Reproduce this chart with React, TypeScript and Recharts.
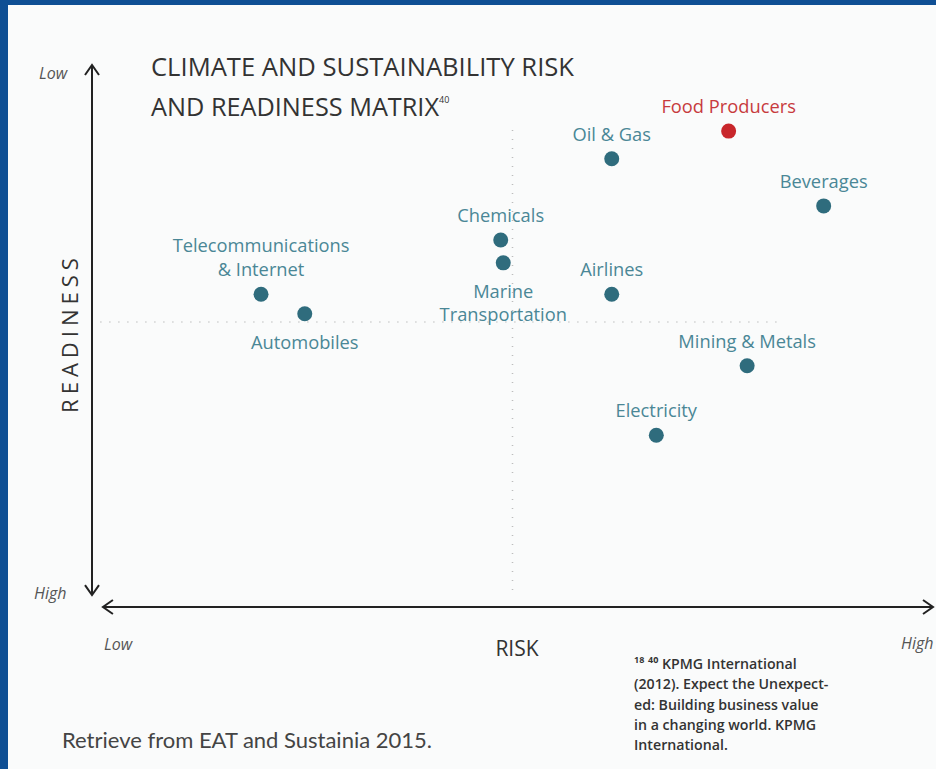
import React from "react";
import { ScatterChart, Scatter, XAxis, YAxis, ReferenceLine, Cell } from "recharts";

const SECTORS = [
  "Food Producers",
  "Oil & Gas",
  "Beverages",
  "Chemicals",
  "Marine Transportation",
  "Airlines",
  "Telecommunications & Internet",
  "Automobiles",
  "Mining & Metals",
  "Electricity",
];
// risk: 0 = low, 100 = high
const RISK = [75.7, 61.8, 87.0, 48.6, 48.9, 61.8, 20.1, 25.3, 77.9, 67.1];
// readiness: 0 = low (top), 100 = high (bottom)
const READINESS = [12.2, 17.3, 26.0, 32.3, 36.5, 42.3, 42.3, 45.9, 55.5, 68.3];
const HIGHLIGHTED = ["Food Producers"];

const LABEL_LINES: Record<string, string[]> = {
  "Telecommunications & Internet": ["Telecommunications", "& Internet"],
  "Marine Transportation": ["Marine", "Transportation"],
};
const LABEL_BELOW = ["Marine Transportation", "Automobiles"];

const FOOTNOTE = [
  "\u00b9\u2078 \u2074\u2070 KPMG International",
  "(2012). Expect the Unexpect-",
  "ed: Building business value",
  "in a changing world. KPMG",
  "International.",
];

const W = 936;
const H = 769;
const TEAL = "#2f6c7d";
const TEAL_TEXT = "#4a8796";
const RED = "#c8262b";
const RED_TEXT = "#c73a3d";
const FONT = "'Open Sans', sans-serif";

const data = SECTORS.map((name, i) => ({
  name,
  risk: RISK[i],
  readiness: READINESS[i],
  highlight: HIGHLIGHTED.includes(name),
}));

const SectorDot = (props: any) => {
  const { cx, cy, payload } = props;
  const lines = LABEL_LINES[payload.name] || [payload.name];
  const below = LABEL_BELOW.includes(payload.name);
  const color = payload.highlight ? RED_TEXT : TEAL_TEXT;
  return (
    <g>
      <circle cx={cx} cy={cy} r={7.5} fill={payload.highlight ? RED : TEAL} />
      {lines.map((line: string, i: number) => {
        const dy = below ? 35 + i * 23 : -18 - (lines.length - 1 - i) * 24;
        return (
          <text
            key={line}
            x={cx}
            y={cy + dy}
            textAnchor="middle"
            fontFamily={FONT}
            fontSize={18.3}
            fill={color}
          >
            {line}
          </text>
        );
      })}
    </g>
  );
};

// line with open chevron heads on both ends
const Arrow = (props: any) => {
  const { x1, y1, x2, y2 } = props;
  const len = Math.hypot(x2 - x1, y2 - y1) || 1;
  const ux = (x2 - x1) / len;
  const uy = (y2 - y1) / len;
  const head = (tx: number, ty: number, dx: number, dy: number) => {
    const bx = tx - dx * 10;
    const by = ty - dy * 10;
    return `M${bx - dy * 7},${by + dx * 7} L${tx},${ty} L${bx + dy * 7},${by - dx * 7}`;
  };
  return (
    <g stroke="#222" strokeWidth={2} fill="none">
      <line x1={x1} y1={y1} x2={x2} y2={y2} />
      <path d={head(x2, y2, ux, uy)} />
      <path d={head(x1, y1, -ux, -uy)} />
    </g>
  );
};

const small = { fontFamily: FONT, fontStyle: "italic" as const, fontSize: 16, fill: "#555" };

export default function App() {
  return (
    <div style={{ position: "absolute", left: 0, top: 0, width: W, height: H, background: "#fafbfb", overflow: "hidden" }}>
      <div style={{ position: "absolute", left: 0, top: 0, width: W, height: 5, background: "#0f4f94" }} />
      <div style={{ position: "absolute", left: 0, top: 0, width: 8, height: H, background: "#0f4f94" }} />

      <div style={{ position: "absolute", left: 0, top: 0 }}>
        <ScatterChart width={W} height={H} margin={{ top: 65, right: 3, bottom: 162, left: 92 }}>
          <XAxis type="number" dataKey="risk" domain={[0, 100]} hide allowDataOverflow />
          <YAxis type="number" dataKey="readiness" domain={[0, 100]} reversed hide allowDataOverflow />
          <ReferenceLine
            segment={[{ x: 50, y: 12 }, { x: 50, y: 98 }]}
            stroke="#bdbdbd"
            strokeWidth={1.5}
            strokeDasharray="1 8"
            ifOverflow="visible"
          />
          <ReferenceLine
            segment={[{ x: 1, y: 47.4 }, { x: 82, y: 47.4 }]}
            stroke="#bdbdbd"
            strokeWidth={1.5}
            strokeDasharray="1 8"
            ifOverflow="visible"
          />
          <ReferenceLine segment={[{ x: 0, y: 0 }, { x: 0, y: 97.8 }]} ifOverflow="visible" shape={<Arrow />} />
          <ReferenceLine segment={[{ x: 1.3, y: 100 }, { x: 100, y: 100 }]} ifOverflow="visible" shape={<Arrow />} />
          <Scatter data={data} shape={<SectorDot />} isAnimationActive={false}>
            {data.map((d) => (
              <Cell key={d.name} fill={d.highlight ? RED : TEAL} />
            ))}
          </Scatter>
        </ScatterChart>
      </div>

      <svg width={W} height={H} style={{ position: "absolute", left: 0, top: 0, pointerEvents: "none" }}>
        <text x={151} y={76} fontFamily={FONT} fontSize={25} fontWeight={500} fill="#333" textLength={423} lengthAdjust="spacingAndGlyphs">
          CLIMATE AND SUSTAINABILITY RISK
        </text>
        <text x={151} y={116} fontFamily={FONT} fontSize={25} fontWeight={500} fill="#333">
          <tspan textLength={288} lengthAdjust="spacingAndGlyphs">AND READINESS MATRIX</tspan>
          <tspan fontSize={9} dy={-13}>40</tspan>
        </text>

        <text x={39} y={79} {...small}>Low</text>
        <text x={34} y={599} {...small}>High</text>
        <text x={104} y={650} {...small}>Low</text>
        <text x={901} y={649} {...small}>High</text>

        <text
          x={0}
          y={0}
          transform="translate(78,333) rotate(-90)"
          textAnchor="middle"
          fontFamily={FONT}
          fontSize={22}
          fontWeight={500}
          letterSpacing={5}
          fill="#333"
        >
          READINESS
        </text>
        <text x={517} y={656} textAnchor="middle" fontFamily={FONT} fontSize={21} fontWeight={500} fill="#333">
          RISK
        </text>

        {FOOTNOTE.map((line, i) => (
          <text key={i} x={634} y={669 + i * 20.3} fontFamily={FONT} fontSize={14.2} fontWeight={600} fill="#333">
            {line}
          </text>
        ))}

        <text x={62} y={748} fontFamily="Lato, sans-serif" fontSize={21} fill="#444" textLength={370} lengthAdjust="spacingAndGlyphs">
          Retrieve from EAT and Sustainia 2015.
        </text>
      </svg>
    </div>
  );
}
